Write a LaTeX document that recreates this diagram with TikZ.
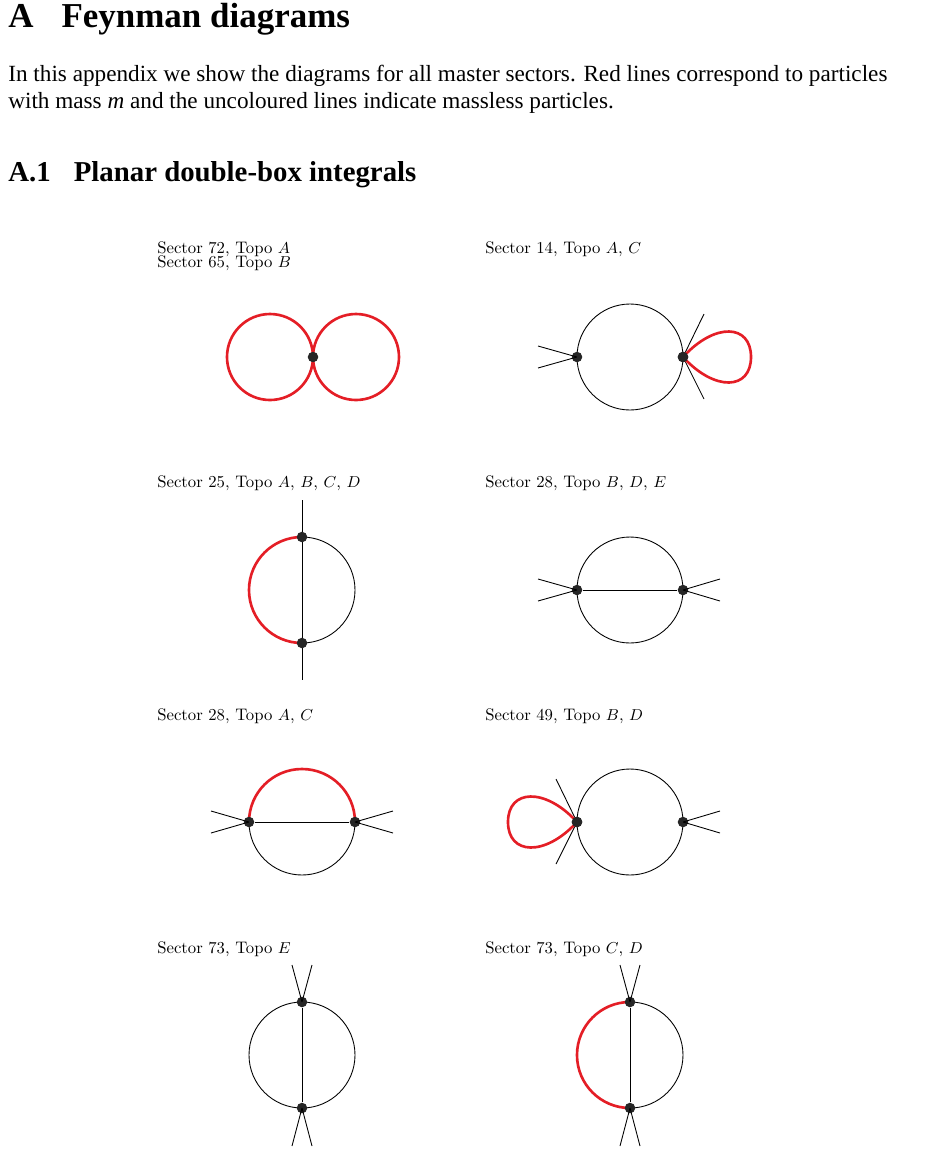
\documentclass[tikz,border=0pt]{standalone}
\usepackage{fontspec}
\newfontfamily\timesfont{Liberation Serif}
\definecolor{massred}{RGB}{228,30,38}
\begin{document}
\begin{tikzpicture}[x=0.02cm, y=-0.02cm,
    % Styles
    prop/.style={line width=0.5pt, black},
    massive/.style={line width=1.5pt, massred},
    vtx/.style={circle, fill=black!85, inner sep=0pt, minimum size=6pt},
    label/.style={anchor=north west, font=\fontsize{9.5}{10}\selectfont, inner sep=0pt, align=left},
]
\useasboundingbox (0,0) rectangle (930,1154);

% Heading and text
\node[anchor=west, font=\timesfont\fontsize{19.9}{24}\selectfont\bfseries, inner sep=0pt] (title) at (8,19) {A\hspace{0.8em}Feynman diagrams};
\node[anchor=north west, font=\timesfont\fontsize{13.2}{15}\selectfont, inner sep=0pt, text width=18.5cm, align=justify] (intro) at (8,65)
  {In this appendix we show the diagrams for all master sectors. Red lines correspond to particles\\ with mass \textit{m} and the uncoloured lines indicate massless particles.};
\node[anchor=west, font=\timesfont\fontsize{16.4}{20}\selectfont\bfseries, inner sep=0pt] (subtitle) at (8,175) {A.1\hspace{0.8em}Planar double-box integrals};

% Diagram 1: Sector 72 / 65
\node[label] (lab1) at (157,241) {Sector 72, Topo $A$\\[-2pt]Sector 65, Topo $B$};
\coordinate (c1a) at (270,357);
\coordinate (c1b) at (356,357);
\draw[massive] (c1a) circle (43);
\draw[massive] (c1b) circle (43);
\node[vtx] (v1) at (313,357) {};

% Diagram 2: Sector 14
\node[label] (lab2) at (485,241) {Sector 14, Topo $A$, $C$};
\coordinate (c2) at (630,357);
\draw[prop] (c2) circle (53);
\node[vtx] (v2a) at (577,357) {};
\node[vtx] (v2b) at (683,357) {};
\coordinate (l2a) at (538,346);
\coordinate (l2b) at (538,368);
\coordinate (l2c) at (704,314);
\coordinate (l2d) at (704,399);
\draw[prop] (v2a.center) -- (l2a) (v2a.center) -- (l2b);
\draw[prop] (v2b.center) -- (l2c) (v2b.center) -- (l2d);
\draw[massive] (v2b.center) .. controls (715,322) and (751,324) .. (751,357)
  .. controls (751,390) and (715,392) .. (v2b.center);
\node[vtx] at (v2b) {};

% Diagram 3: Sector 25
\node[label] (lab3) at (157,475) {Sector 25, Topo $A$, $B$, $C$, $D$};
\coordinate (c3) at (302,590);
\coordinate (t3) at (302,500);
\coordinate (b3) at (302,680);
\draw[prop] (302,537) arc (-90:90:53);
\draw[massive] (302,537) arc (-90:-270:53);
\draw[prop] (t3) -- (b3);
\node[vtx] (v3a) at (302,537) {};
\node[vtx] (v3b) at (302,643) {};

% Diagram 4: Sector 28 B, D, E
\node[label] (lab4) at (485,475) {Sector 28, Topo $B$, $D$, $E$};
\coordinate (c4) at (630,590);
\draw[prop] (c4) circle (53);
\node[vtx] (v4a) at (577,590) {};
\node[vtx] (v4b) at (683,590) {};
\draw[prop] (v4a) -- (v4b);
\draw[prop] (v4a.center) -- (538,579) (v4a.center) -- (538,601);
\draw[prop] (v4b.center) -- (720,579) (v4b.center) -- (720,601);

% Diagram 5: Sector 28 A, C
\node[label] (lab5) at (157,708) {Sector 28, Topo $A$, $C$};
\coordinate (c5) at (302,822);
\draw[prop] (249,822) arc (180:0:53);
\draw[massive] (249,822) arc (180:360:53);
\node[vtx] (v5a) at (249,822) {};
\node[vtx] (v5b) at (355,822) {};
\draw[prop] (v5a) -- (v5b);
\draw[prop] (v5a.center) -- (211,811) (v5a.center) -- (211,833);
\draw[prop] (v5b.center) -- (393,811) (v5b.center) -- (393,833);

% Diagram 6: Sector 49
\node[label] (lab6) at (485,708) {Sector 49, Topo $B$, $D$};
\coordinate (c6) at (630,822);
\draw[prop] (c6) circle (53);
\node[vtx] (v6a) at (577,822) {};
\node[vtx] (v6b) at (683,822) {};
\draw[prop] (v6a.center) -- (556,779) (v6a.center) -- (556,864);
\draw[prop] (v6b.center) -- (720,811) (v6b.center) -- (720,833);
\draw[massive] (v6a.center) .. controls (545,787) and (508,789) .. (508,822)
  .. controls (508,855) and (545,857) .. (v6a.center);
\node[vtx] at (v6a) {};

% Diagram 7: Sector 73 E
\node[label] (lab7) at (157,941) {Sector 73, Topo $E$};
\coordinate (c7) at (302,1055);
\draw[prop] (c7) circle (53);
\node[vtx] (v7a) at (302,1002) {};
\node[vtx] (v7b) at (302,1108) {};
\draw[prop] (v7a) -- (v7b);
\draw[prop] (v7a.center) -- (292,965) (v7a.center) -- (312,965);
\draw[prop] (v7b.center) -- (292,1146) (v7b.center) -- (312,1146);

% Diagram 8: Sector 73 C, D
\node[label] (lab8) at (485,941) {Sector 73, Topo $C$, $D$};
\coordinate (c8) at (630,1055);
\draw[prop] (630,1002) arc (-90:90:53);
\draw[massive] (630,1002) arc (-90:-270:53);
\node[vtx] (v8a) at (630,1002) {};
\node[vtx] (v8b) at (630,1108) {};
\draw[prop] (v8a) -- (v8b);
\draw[prop] (v8a.center) -- (620,965) (v8a.center) -- (640,965);
\draw[prop] (v8b.center) -- (620,1146) (v8b.center) -- (640,1146);

\end{tikzpicture}
\end{document}
